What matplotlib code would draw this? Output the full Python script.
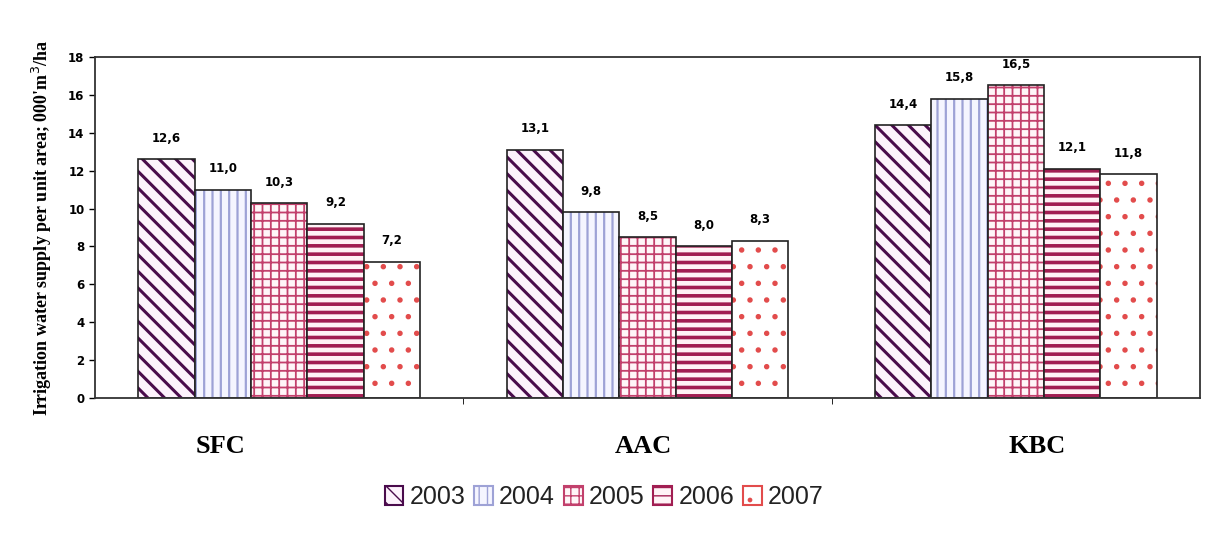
import matplotlib
matplotlib.use('Agg')
import matplotlib.pyplot as plt
from matplotlib.patches import Patch
import numpy as np

canals = ['SFC', 'AAC', 'KBC']
years = ['2003', '2004', '2005', '2006', '2007']
supply = {
    '2003': [12.6, 13.1, 14.4],
    '2004': [11.0, 9.8, 15.8],
    '2005': [10.3, 8.5, 16.5],
    '2006': [9.2, 8.0, 12.1],
    '2007': [7.2, 8.3, 11.8],
}

# hatch colour, face colour, hatch pattern, hatch line width
styles = {
    '2003': ('#4a0b4c', '#fdf2fc', '\\\\', 2.2),
    '2004': ('#9ea2d6', '#f5f5ff', '||', 1.6),
    '2005': ('#c2406c', '#fff6f8', '++', 1.3),
    '2006': ('#a11e52', '#fff3f6', '--', 2.6),
    '2007': ('#e24c4c', '#ffffff', '.', 1.5),
}

fig = plt.figure(figsize=(12.08, 5.44), dpi=100)
ax = fig.add_axes([0.0786, 0.2684, 0.9148, 0.6268])

x = np.arange(len(canals))
width = 0.153
handles = []
for i, yr in enumerate(years):
    hc, fc, hatch, hlw = styles[yr]
    pos = x + (i - 2) * width
    vals = supply[yr]
    with plt.rc_context({'hatch.linewidth': hlw}):
        ax.bar(pos, vals, width, color=fc, edgecolor=hc, hatch=hatch, linewidth=0)
    with plt.rc_context({'hatch.linewidth': 1.2}):
        handles.append(Patch(facecolor=fc, edgecolor=hc, hatch=hatch, linewidth=1.5))
    ax.bar(pos, vals, width, fill=False, edgecolor='#222222', linewidth=1.2)
    for p, v in zip(pos, vals):
        ax.annotate(f'{v:.1f}'.replace('.', ','), (p, v), xytext=(0, 15),
                    textcoords='offset points', ha='center', va='center',
                    fontsize=8.5, fontweight='bold', family='DejaVu Sans')

ax.set_xlim(-0.5, 2.5)
ax.set_ylim(0, 18)
ax.set_yticks(range(0, 19, 2))
ax.tick_params(axis='y', labelsize=8.5, length=4, direction='out', width=1)
for lab in ax.get_yticklabels():
    lab.set_fontweight('bold')

# group boundaries carry the tick marks, labels sit slightly off-centre
ax.set_xticks([0.5, 1.5], minor=True)
ax.tick_params(axis='x', which='minor', length=4, direction='out')
ax.set_xticks([-0.158, 0.989, 2.057])
ax.set_xticklabels(canals, family='Liberation Serif', fontweight='bold', fontsize=19)
ax.tick_params(axis='x', which='major', length=0, pad=27)

for sp in ax.spines.values():
    sp.set_linewidth(1.3)
    sp.set_color('#333333')

ax.set_ylabel("Irrigation water supply per unit area; 000'm$^3$/ha",
              family='Liberation Serif', fontweight='bold', fontsize=13, labelpad=10)

fig.legend(handles, years, loc='center', bbox_to_anchor=(0.5, 0.086), ncol=5,
           frameon=False, handlelength=0.75, handleheight=0.75,
           handletextpad=0.25, columnspacing=0.35, labelcolor='#222222',
           prop={'family': 'Liberation Sans', 'size': 18})

fig.savefig('out.png', dpi=100, facecolor='white')
